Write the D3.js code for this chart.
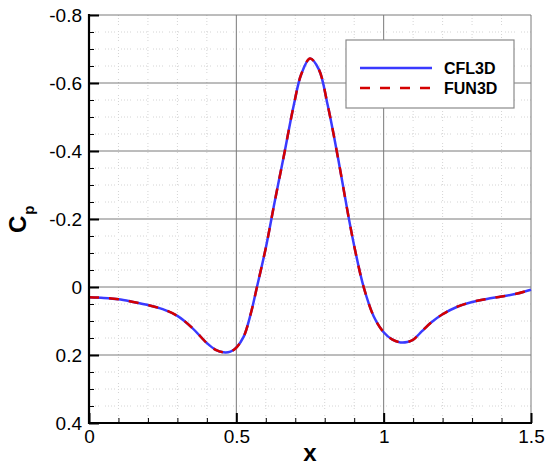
<!DOCTYPE html>
<html><head><meta charset="utf-8">
<script src="https://cdn.jsdelivr.net/npm/d3@7"></script>
<style>body{margin:0;background:#fff}svg{display:block}text{font-family:"Liberation Sans",Arial,Helvetica,sans-serif}</style>
</head><body>
<script>
const xValues = [0, 0.05, 0.1, 0.15, 0.2, 0.25, 0.3, 0.35, 0.4, 0.43, 0.456, 0.48, 0.5, 0.525, 0.55, 0.57, 0.6, 0.63, 0.66, 0.695, 0.72, 0.75, 0.78, 0.81, 0.845, 0.88, 0.905, 0.932, 0.966, 1.0, 1.03, 1.057, 1.08, 1.1, 1.13, 1.16, 1.2, 1.25, 1.3, 1.35, 1.4, 1.45, 1.5];
const cfl3dCp = [0.03, 0.032, 0.036, 0.044, 0.053, 0.065, 0.085, 0.12, 0.165, 0.185, 0.192, 0.19, 0.178, 0.146, 0.075, 0.0, -0.115, -0.25, -0.38, -0.535, -0.625, -0.672, -0.64, -0.535, -0.38, -0.21, -0.1, 0, 0.086, 0.133, 0.155, 0.163, 0.162, 0.155, 0.13, 0.105, 0.08, 0.058, 0.044, 0.035, 0.028, 0.02, 0.008];
const fun3dCp = [0.03, 0.032, 0.036, 0.044, 0.053, 0.065, 0.085, 0.12, 0.165, 0.185, 0.192, 0.19, 0.178, 0.146, 0.075, 0.0, -0.115, -0.25, -0.38, -0.535, -0.625, -0.672, -0.64, -0.535, -0.38, -0.21, -0.1, 0, 0.086, 0.133, 0.155, 0.163, 0.162, 0.155, 0.13, 0.105, 0.08, 0.058, 0.044, 0.035, 0.028, 0.02, 0.008];
const xTicks = [0, 0.5, 1, 1.5];
const xTickLabels = ["0", "0.5", "1", "1.5"];
const yTicks = [-0.8, -0.6, -0.4, -0.2, 0, 0.2, 0.4];
const yTickLabels = ["-0.8", "-0.6", "-0.4", "-0.2", "0", "0.2", "0.4"];
const seriesNames = ["CFL3D", "FUN3D"];

const W = 548, H = 467;
const L = 89, R = 531, T = 15, B = 423;
const svg = d3.select("body").append("svg").attr("width", W).attr("height", H);
const x = d3.scaleLinear().domain([0, 1.5]).range([L, R]);
const y = d3.scaleLinear().domain([-0.8, 0.4]).range([T, B]);

// minor grid
const xMinor = d3.range(0, 15.01, 1).map(d => d / 10);
const yMinor = d3.range(-16, 8.01, 1).map(d => d / 20);
const isMajor = (arr, d) => arr.some(t => Math.abs(t - d) < 1e-9);
const dotPat = "1,2,1,2,1,2,1,6";
const g = svg.append("g");
g.selectAll(".vm").data(xMinor.filter(d => !isMajor(xTicks, d))).enter().append("line")
  .attr("x1", d => x(d)).attr("x2", d => x(d)).attr("y1", T).attr("y2", B)
  .attr("stroke", "#d4d4d4").attr("stroke-width", 1).attr("stroke-dasharray", dotPat);
g.selectAll(".hm").data(yMinor.filter(d => !isMajor(yTicks, d))).enter().append("line")
  .attr("x1", L).attr("x2", R).attr("y1", d => y(d)).attr("y2", d => y(d))
  .attr("stroke", "#d4d4d4").attr("stroke-width", 1).attr("stroke-dasharray", dotPat);
// major grid
g.selectAll(".vM").data(xTicks).enter().append("line")
  .attr("x1", d => x(d)).attr("x2", d => x(d)).attr("y1", T).attr("y2", B)
  .attr("stroke", "#7a7a7a").attr("stroke-width", 1);
g.selectAll(".hM").data(yTicks).enter().append("line")
  .attr("x1", L).attr("x2", R).attr("y1", d => y(d)).attr("y2", d => y(d))
  .attr("stroke", "#7a7a7a").attr("stroke-width", 1);

// curves
const pts1 = xValues.map((v, i) => [v, cfl3dCp[i]]);
const pts2 = xValues.map((v, i) => [v, fun3dCp[i]]);
const line = d3.line().x(d => x(d[0])).y(d => y(d[1])).curve(d3.curveCatmullRom.alpha(0.5));
svg.append("path").attr("d", line(pts1)).attr("fill", "none").attr("stroke", "#3a3aff").attr("stroke-width", 2.5);
svg.append("path").attr("d", line(pts2)).attr("fill", "none").attr("stroke", "#d40000").attr("stroke-width", 2.5).attr("stroke-dasharray", "10,10");

// axes
const yAxis = d3.axisLeft(y).tickValues(yTicks).tickFormat((d, i) => yTickLabels[i]).tickSize(-10).tickPadding(7);
const ya = svg.append("g").attr("transform", `translate(${L},0)`).call(yAxis);
ya.select(".domain").remove();
ya.selectAll("line").attr("stroke", "#000").attr("stroke-width", 2);
ya.selectAll("text").attr("font-size", 19).attr("fill", "#000");
const yMinorAxis = d3.axisLeft(y).tickValues(yMinor.filter(d => !isMajor(yTicks, d))).tickSize(-5).tickFormat("");
const ym = svg.append("g").attr("transform", `translate(${L},0)`).call(yMinorAxis);
ym.select(".domain").remove();
ym.selectAll("line").attr("stroke", "#000").attr("stroke-width", 1);

const xAxis = d3.axisBottom(x).tickValues(xTicks).tickFormat((d, i) => xTickLabels[i]).tickSize(-10).tickPadding(7);
const xa = svg.append("g").attr("transform", `translate(0,${B})`).call(xAxis);
xa.select(".domain").remove();
xa.selectAll("line").attr("stroke", "#000").attr("stroke-width", 2);
xa.selectAll("text").attr("font-size", 19).attr("fill", "#000");
const xMinorAxis = d3.axisBottom(x).tickValues(xMinor.filter(d => !isMajor(xTicks, d))).tickSize(-5).tickFormat("");
const xm = svg.append("g").attr("transform", `translate(0,${B})`).call(xMinorAxis);
xm.select(".domain").remove();
xm.selectAll("line").attr("stroke", "#000").attr("stroke-width", 1);

svg.append("line").attr("x1", L).attr("x2", L).attr("y1", T - 1).attr("y2", B + 1).attr("stroke", "#000").attr("stroke-width", 2.2);
svg.append("line").attr("x1", L - 1).attr("x2", R + 1).attr("y1", B).attr("y2", B).attr("stroke", "#000").attr("stroke-width", 2.2);

// axis titles
svg.append("text").attr("x", x(0.75)).attr("y", 461).attr("text-anchor", "middle")
  .attr("font-size", 24).attr("font-weight", "bold").text("x");
const yl = svg.append("text").attr("transform", "translate(26,233) rotate(-90)")
  .attr("font-size", 24).attr("font-weight", "bold");
yl.append("tspan").text("C");
yl.append("tspan").attr("font-size", 15).attr("dy", 8).attr("dx", 1).text("p");

// legend
const lg = svg.append("g");
lg.append("rect").attr("x", 346).attr("y", 40).attr("width", 168).attr("height", 68)
  .attr("fill", "#fff").attr("stroke", "#8a8a8a").attr("stroke-width", 1.2);
const colors = ["#3a3aff", "#d40000"];
const dashes = [null, "10,10"];
seriesNames.forEach((n, i) => {
  const yy = 68 + i * 20;
  lg.append("line").attr("x1", 360).attr("x2", 432).attr("y1", yy).attr("y2", yy)
    .attr("stroke", colors[i]).attr("stroke-width", 2.5).attr("stroke-dasharray", dashes[i]);
  lg.append("text").attr("x", 444).attr("y", yy + 6).attr("font-size", 16).attr("font-weight", "bold").text(n);
});
</script>
</body></html>
